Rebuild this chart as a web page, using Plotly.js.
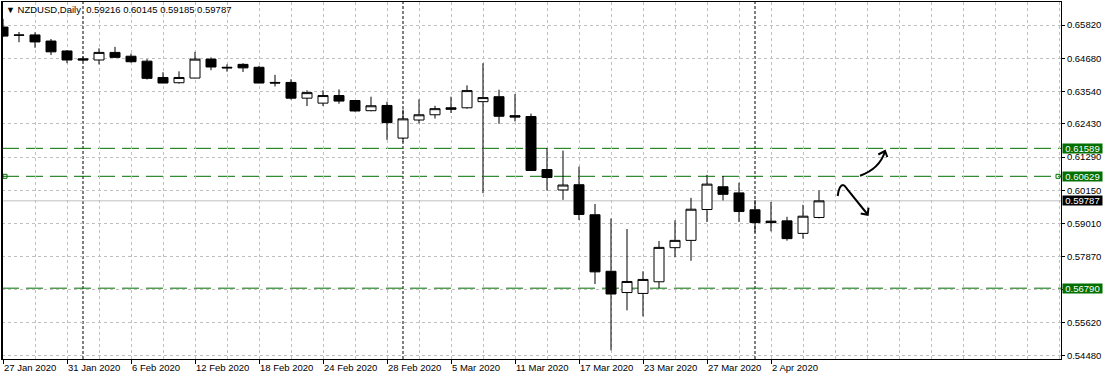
<!DOCTYPE html>
<html><head><meta charset="utf-8">
<script src="https://cdn.plot.ly/plotly-3.0.1.min.js"></script>
<style>html,body{margin:0;padding:0;background:#fff}#chart{width:1107px;height:379px}</style>
</head><body><div id="chart"></div>
<script>
// ---- data ----
const symbol = 'NZDUSD';
const timeframe = 'Daily';
const dates = ['2020-01-27','2020-01-28','2020-01-29','2020-01-30','2020-01-31',
  '2020-02-03','2020-02-04','2020-02-05','2020-02-06','2020-02-07',
  '2020-02-10','2020-02-11','2020-02-12','2020-02-13','2020-02-14',
  '2020-02-17','2020-02-18','2020-02-19','2020-02-20','2020-02-21',
  '2020-02-24','2020-02-25','2020-02-26','2020-02-27','2020-02-28',
  '2020-03-02','2020-03-03','2020-03-04','2020-03-05','2020-03-06',
  '2020-03-09','2020-03-10','2020-03-11','2020-03-12','2020-03-13',
  '2020-03-16','2020-03-17','2020-03-18','2020-03-19','2020-03-20',
  '2020-03-23','2020-03-24','2020-03-25','2020-03-26','2020-03-27',
  '2020-03-30','2020-03-31','2020-04-01','2020-04-02','2020-04-03',
  '2020-04-06','2020-04-07'];
const open  = [0.6575,0.6548,0.6548,0.6527,0.6493, 0.6466,0.6462,0.6488,0.6475,0.6458,
  0.6402,0.6384,0.6400,0.6465,0.6437, 0.6447,0.6437,0.6385,0.6385,0.6331,
  0.6314,0.6340,0.6323,0.6288,0.6306, 0.6194,0.6256,0.6274,0.6298,0.6298,
  0.6319,0.6336,0.6271,0.6268,0.6086, 0.6016,0.6034,0.5931,0.5737,0.5664,
  0.5661,0.5701,0.5818,0.5843,0.5949, 0.6027,0.6006,0.5948,0.5909,0.5910,
  0.5867,0.59216];
const high  = [0.6603,0.6558,0.6557,0.6534,0.6496, 0.6474,0.6502,0.6507,0.6484,0.6465,
  0.6420,0.6423,0.6490,0.6471,0.6447, 0.6451,0.6442,0.6411,0.6396,0.6358,
  0.6358,0.6361,0.6324,0.6336,0.6319, 0.6292,0.6327,0.6305,0.6336,0.6375,
  0.6451,0.6360,0.6345,0.6278,0.6160, 0.6151,0.6096,0.5968,0.5918,0.5882,
  0.5737,0.5841,0.5912,0.5989,0.6068, 0.6064,0.6041,0.5981,0.5975,0.5924,
  0.5965,0.60145];
const low   = [0.6541,0.6523,0.6504,0.6479,0.6451, 0.6458,0.6447,0.6469,0.6453,0.6395,
  0.6382,0.6381,0.6399,0.6427,0.6422, 0.6421,0.6382,0.6371,0.6326,0.6304,
  0.6304,0.6312,0.6285,0.6286,0.6188, 0.6180,0.6245,0.6261,0.6280,0.6295,
  0.6005,0.6243,0.6251,0.6082,0.6014, 0.5982,0.5913,0.5693,0.5466,0.5603,
  0.5582,0.5679,0.5785,0.5773,0.5906, 0.5980,0.5906,0.5870,0.5874,0.5842,
  0.5849,0.59185];
const close = [0.6544,0.6547,0.6524,0.6490,0.6462, 0.6462,0.6488,0.6471,0.6456,0.6399,
  0.6383,0.6402,0.6465,0.6438,0.6435, 0.6435,0.6383,0.6383,0.6331,0.6350,
  0.6340,0.6321,0.6287,0.6305,0.6247, 0.6260,0.6274,0.6295,0.6293,0.6357,
  0.6333,0.6269,0.6266,0.6083,0.6059, 0.6033,0.5932,0.5735,0.5659,0.5702,
  0.5709,0.5819,0.5843,0.5950,0.6036, 0.6001,0.5942,0.5904,0.5904,0.5849,
  0.5926,0.59787];
const levels = [0.61589, 0.60629, 0.56790];
const priceTicks = [0.65820,0.64680,0.63540,0.62430,0.61290,0.60150,0.59010,0.57870,0.56750,0.55620,0.54480];
const priceTickText = ['0.65820','0.64680','0.63540','0.62430','0.61290','0.60150','0.59010','0.57870','','0.55620','0.54480'];
const monthNames = ['Jan','Feb','Mar','Apr','May','Jun','Jul','Aug','Sep','Oct','Nov','Dec'];
const labelEvery = 4;

// ---- layout geometry ----
const W = 1107, H = 379;
const M = {l: 2, r: 46, t: 2, b: 20};
const xRange = [-0.0625, 66.125];
const yRange = [0.5436, 0.6661];
const FONT = 'Liberation Sans, Arial, sans-serif';
const GREEN = '#007000';
const GRID = '#c0c0c0';

const xIdx = dates.map((d, i) => i);
const fmtDate = s => { const [y, m, d] = s.split('-'); return `${parseInt(d, 10)} ${monthNames[parseInt(m, 10) - 1]} ${y}`; };
const tickIdx = xIdx.filter(i => i % labelEvery === 0);
const tickText = tickIdx.map(i => fmtDate(dates[i]));
const sepIdx = xIdx.filter(i => i > 0 && dates[i].slice(5, 7) !== dates[i - 1].slice(5, 7));
const last = dates.length - 1;

const px2x = px => xRange[0] + (px - M.l) / (W - M.l - M.r) * (xRange[1] - xRange[0]);
const py2y = py => yRange[1] - (py - M.t) / (H - M.t - M.b) * (yRange[1] - yRange[0]);
function path(cmds) {
  return cmds.map(c => c[0] + c.slice(1).reduce((a, v, k, arr) => k % 2 ? a : a.concat(px2x(arr[k]) + ',' + py2y(arr[k + 1])), []).join(' ')).join(' ');
}

const trace = {
  type: 'candlestick', x: xIdx, open: open, high: high, low: low, close: close,
  increasing: {line: {color: '#000', width: 1}, fillcolor: '#ffffff'},
  decreasing: {line: {color: '#000', width: 1}, fillcolor: '#000000'},
  whiskerwidth: 0, hoverinfo: 'skip', showlegend: false
};

const shapes = [];
sepIdx.forEach(i => shapes.push({type: 'line', xref: 'x', yref: 'paper', x0: i, x1: i, y0: 0, y1: 1,
  line: {color: '#000', width: 1, dash: '3px,2px'}, layer: 'below'}));
shapes.push({type: 'line', xref: 'paper', yref: 'y', x0: 0, x1: 1, y0: close[last], y1: close[last],
  line: {color: GRID, width: 1}, layer: 'below'});
levels.forEach(v => shapes.push({type: 'line', xref: 'paper', yref: 'y', x0: 0, x1: 1, y0: v, y1: v,
  line: {color: GREEN, width: 1, dash: '17px,7px'}, layer: 'below'}));
[[0, 1, 5], [1, -5, -1]].forEach(([a, p0, p1]) => shapes.push({type: 'rect', xref: 'paper', xsizemode: 'pixel', xanchor: a, x0: p0, x1: p1,
  yref: 'y', ysizemode: 'pixel', yanchor: levels[1], y0: -2, y1: 2, line: {color: GREEN, width: 1}, fillcolor: 'rgba(255,255,255,0)'}));
// left border a bit heavier, as in the reference
shapes.push({type: 'line', xref: 'paper', yref: 'paper', x0: 0, x1: 0, y0: 0, y1: 1, line: {color: '#000', width: 2}});
// hand-drawn arrows
const arrowStyle = {color: '#000', width: 2};
shapes.push({type: 'path', xref: 'x', yref: 'y', path: path([['M', 860, 175.7], ['C', 872, 171.5, 881, 164, 885, 151.5]]), line: arrowStyle});
shapes.push({type: 'path', xref: 'x', yref: 'y', path: path([['M', 878.3, 154.5], ['L', 885, 151], ['L', 887.3, 157]]), line: arrowStyle});
shapes.push({type: 'path', xref: 'x', yref: 'y', path: path([['M', 837.7, 196], ['C', 838.5, 190, 840, 185, 843, 185], ['C', 845, 185, 846, 187.5, 847, 189], ['L', 867.7, 214.5]]), line: arrowStyle});
shapes.push({type: 'path', xref: 'x', yref: 'y', path: path([['M', 860.7, 213.5], ['L', 867.7, 214.8], ['L', 868.5, 207.7]]), line: arrowStyle});

const annotations = levels.map(v => ({xref: 'paper', x: 1, xanchor: 'left', xshift: 1, yref: 'y', y: v, yanchor: 'middle',
  text: v.toFixed(5), showarrow: false, bgcolor: GREEN, font: {family: FONT, size: 9.5, color: '#fff'},
  width: 39, height: 9, borderpad: 0, align: 'center'}));
annotations.push({xref: 'paper', x: 1, xanchor: 'left', xshift: 1, yref: 'y', y: close[last], yanchor: 'middle',
  text: close[last].toFixed(5), showarrow: false, bgcolor: '#000', font: {family: FONT, size: 9.5, color: '#fff'},
  width: 39, height: 9, borderpad: 0, align: 'center'});

const layout = {
  width: W, height: H, margin: M, paper_bgcolor: '#fff', plot_bgcolor: '#fff',
  showlegend: false, boxgap: 0.375, boxgroupgap: 0,
  title: {text: `<span style="font-size:9px">▼</span> ${symbol},${timeframe}  ${open[last].toFixed(5)} ${high[last].toFixed(5)} ${low[last].toFixed(5)} ${close[last].toFixed(5)}`,
    xref: 'container', x: 6 / W, xanchor: 'left', yref: 'container', y: 1 - 10 / H, yanchor: 'middle',
    font: {family: FONT, size: 9.5, color: '#000'}},
  xaxis: {range: xRange, tickmode: 'array', tickvals: tickIdx, ticktext: tickText, ticks: 'outside', ticklen: 4, tickcolor: '#000',
    showline: true, mirror: true, linecolor: '#000', linewidth: 1, showgrid: true, gridcolor: GRID, griddash: '3px,3px', gridwidth: 1,
    zeroline: false, ticklabelposition: 'outside right', tickfont: {family: FONT, size: 9.5, color: '#000'},
    rangeslider: {visible: false}, fixedrange: true,
    minor: {tick0: 0, dtick: 2, showgrid: true, gridcolor: GRID, griddash: '3px,3px', gridwidth: 1, ticks: ''}},
  yaxis: {side: 'right', range: yRange, tickmode: 'array', tickvals: priceTicks, ticktext: priceTickText, ticks: 'outside', ticklen: 3,
    tickcolor: '#000', showline: true, mirror: true, linecolor: '#000', linewidth: 1, showgrid: true, gridcolor: GRID,
    griddash: '3px,3px', gridwidth: 1, zeroline: false, tickfont: {family: FONT, size: 9.5, color: '#000'}, fixedrange: true},
  shapes: shapes, annotations: annotations
};
Plotly.newPlot('chart', [trace], layout, {staticPlot: true, displayModeBar: false});
</script></body></html>
